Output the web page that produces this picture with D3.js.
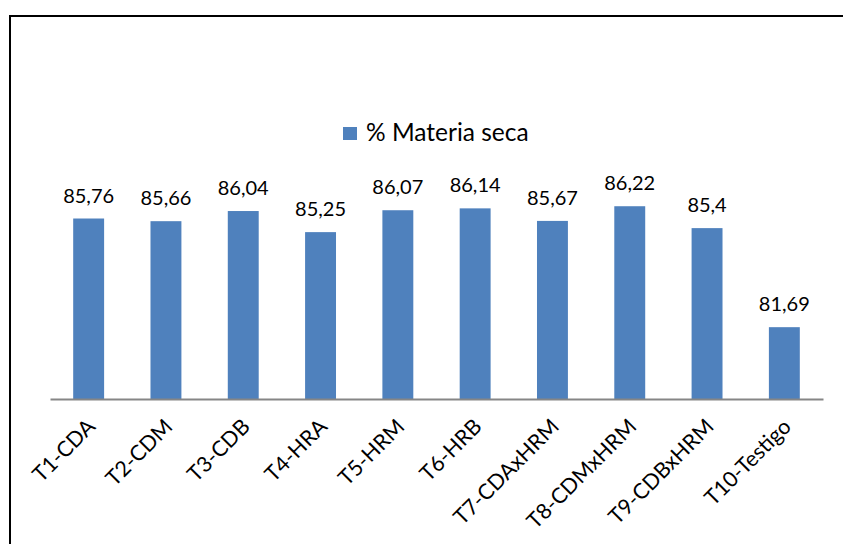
<!DOCTYPE html>
<html>
<head>
<meta charset="utf-8">
<script src="https://cdn.jsdelivr.net/npm/d3@7"></script>
<style>
  body { margin: 0; background: #fff; }
  svg text { font-family: Lato, "Open Sans", sans-serif; fill: #000; }
</style>
</head>
<body>
<div id="chart"></div>
<script>
// data
const categories = ['T1-CDA', 'T2-CDM', 'T3-CDB', 'T4-HRA', 'T5-HRM', 'T6-HRB',
                    'T7-CDAxHRM', 'T8-CDMxHRM', 'T9-CDBxHRM', 'T10-Testigo'];
const materiaSeca = [85.76, 85.66, 86.04, 85.25, 86.07, 86.14, 85.67, 86.22, 85.4, 81.69];
const seriesName = '% Materia seca';
const yDomain = [79, 88];

const width = 843, height = 544;
const svg = d3.select('#chart').append('svg')
  .attr('width', width).attr('height', height);

// outer frame (only left and top visible)
svg.append('rect')
  .attr('x', 10).attr('y', 16)
  .attr('width', 850).attr('height', 560)
  .attr('fill', 'none').attr('stroke', '#000').attr('stroke-width', 2);

const x = d3.scaleBand().domain(categories).range([50, 823]).paddingInner(0.6).paddingOuter(0.3);
const y = d3.scaleLinear().domain(yDomain).range([399, 158.7]);

// bars
svg.selectAll('rect.bar')
  .data(materiaSeca)
  .enter().append('rect')
    .attr('class', 'bar')
    .attr('x', (d, i) => x(categories[i]))
    .attr('y', d => y(d))
    .attr('width', x.bandwidth())
    .attr('height', d => y(yDomain[0]) - y(d))
    .attr('fill', '#4F81BD');

// value labels
svg.selectAll('text.val')
  .data(materiaSeca)
  .enter().append('text')
    .attr('class', 'val')
    .attr('x', (d, i) => x(categories[i]) + x.bandwidth() / 2)
    .attr('y', d => y(d) - 16)
    .attr('text-anchor', 'middle')
    .attr('font-size', 20)
    .text(d => String(d).replace('.', ','));

// x axis
const xAxis = svg.append('g')
  .attr('transform', 'translate(0,399)')
  .call(d3.axisBottom(x).tickSize(0).tickSizeOuter(0));
xAxis.select('.domain').attr('stroke', '#868686').attr('stroke-width', 2);
xAxis.selectAll('text')
  .attr('font-size', 21.5)
  .attr('font-family', 'Lato, "Open Sans", sans-serif')
  .attr('fill', '#000')
  .attr('text-anchor', 'end')
  .attr('dy', null)
  .attr('y', 0)
  .attr('transform', 'translate(8,29) rotate(-45)');

// legend
const legend = svg.append('g').attr('transform', 'translate(343,127)');
legend.append('rect').attr('width', 14).attr('height', 13).attr('fill', '#4F81BD');
legend.append('text')
  .attr('x', 23).attr('y', 13.5)
  .attr('font-size', 24.5)
  .text(seriesName);
</script>
</body>
</html>
